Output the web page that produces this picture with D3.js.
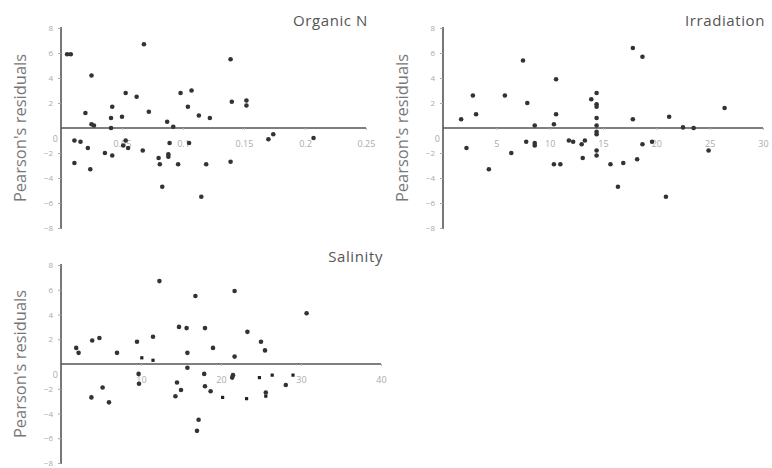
<!DOCTYPE html>
<html>
<head>
<meta charset="utf-8">
<script src="https://cdn.jsdelivr.net/npm/d3@7"></script>
<style>
  html, body { margin: 0; padding: 0; background: #fff; }
  svg { display: block; }
</style>
</head>
<body>
<svg id="chart" width="772" height="468"></svg>
<script>
// Pearson's residuals against three environmental predictors.
const residualTicks = [-8, -6, -4, -2, 2, 4, 6, 8];

const organicNTicks = [0.05, 0.1, 0.15, 0.2, 0.25];
const organicNTickLabels = ["0.05", "0.1", "0.15", "0.2", "0.25"];
const organicN = [0.005, 0.068, 0.139, 0.025, 0.053, 0.062, 0.098, 0.107, 0.042, 0.072,
  0.104, 0.140, 0.152, 0.152, 0.020, 0.041, 0.050, 0.113, 0.122, 0.025,
  0.027, 0.087, 0.092, 0.011, 0.016, 0.022, 0.053, 0.051, 0.055, 0.036,
  0.042, 0.067, 0.089, 0.105, 0.088, 0.088, 0.080, 0.011, 0.024, 0.081,
  0.096, 0.119, 0.139, 0.083, 0.115, 0.170, 0.174, 0.207, 0.041, 0.008];
const organicNResid = [5.9, 6.7, 5.5, 4.2, 2.8, 2.5, 2.8, 3.0, 1.7, 1.3,
  1.7, 2.1, 2.2, 1.8, 1.2, 0.8, 0.9, 1.0, 0.8, 0.3,
  0.2, 0.5, 0.1, -1.0, -1.1, -1.6, -1.0, -1.4, -1.6, -2.0,
  -2.2, -1.8, -1.2, -1.2, -2.1, -2.3, -2.4, -2.8, -3.3, -2.9,
  -2.9, -2.9, -2.7, -4.7, -5.5, -0.9, -0.5, -0.8, 0.0, 5.9];

const irradiationTicks = [5, 10, 15, 20, 25, 30];
const irradiationTickLabels = ["5", "10", "15", "20", "25", "30"];
const irradiation = [17.8, 18.7, 7.5, 10.6, 2.8, 5.8, 14.4, 13.9, 14.4, 14.4,
  7.9, 3.1, 10.6, 1.7, 14.4, 17.8, 21.2, 26.4, 10.4, 14.4,
  14.4, 14.4, 2.2, 4.3, 6.4, 7.8, 8.6, 8.6, 10.4, 11.0,
  11.8, 12.2, 13.0, 13.3, 13.1, 14.4, 14.4, 15.7, 16.9, 16.4,
  18.2, 18.7, 19.6, 20.9, 24.9, 22.5, 23.5, 8.6];
const irradiationResid = [6.4, 5.7, 5.4, 3.9, 2.6, 2.6, 2.8, 2.3, 1.9, 1.7,
  2.0, 1.1, 1.1, 0.7, 0.8, 0.7, 0.9, 1.6, 0.3, 0.2,
  -0.5, -0.3, -1.6, -3.3, -2.0, -1.1, -1.2, -1.4, -2.9, -2.9,
  -1.0, -1.1, -1.3, -1.0, -2.4, -1.8, -2.2, -2.9, -2.8, -4.7,
  -2.5, -1.3, -1.1, -5.5, -1.8, 0.05, 0.0, 0.2];

const salinityTicks = [10, 20, 30, 40];
const salinityTickLabels = ["10", "20", "30", "40"];
const salinity = [12.3, 16.8, 21.7, 30.7, 14.75, 15.7, 18.0, 23.3, 3.9, 4.8,
  11.5, 9.5, 25.0, 1.9, 2.2, 7.0, 15.8, 19.0, 25.5, 21.7,
  15.8, 9.7, 9.75, 17.9, 3.8, 5.2, 6.0, 14.5, 15.0, 14.3,
  18.0, 18.7, 17.2, 17.0, 21.4, 21.5, 28.1, 25.6];
const salinityResid = [6.7, 5.5, 5.9, 4.1, 3.0, 2.9, 2.9, 2.6, 1.9, 2.1,
  2.2, 1.8, 1.8, 1.3, 0.9, 0.9, 0.9, 1.3, 1.1, 0.6,
  -0.3, -0.8, -1.6, -0.8, -2.7, -1.9, -3.1, -1.5, -2.1, -2.6,
  -1.8, -2.2, -4.5, -5.4, -1.1, -0.9, -1.7, -2.3];
// Salinity observations drawn with small square markers
const salinitySq = [10.1, 11.5, 24.8, 26.4, 29.0, 20.2, 23.2, 25.6];
const salinitySqResid = [0.5, 0.3, -1.1, -0.9, -0.9, -2.7, -2.8, -2.6];

const svg = d3.select("#chart");
const font = "'Open Sans', 'Noto Sans', sans-serif";

const panels = [
  { title: "Organic N", xs: organicN, ys: organicNResid, xDomain: [0, 0.25],
    xTicks: organicNTicks, xLabels: organicNTickLabels,
    left: 61, right: 366, top: 28, bottom: 228, titleY: 26 },
  { title: "Irradiation", xs: irradiation, ys: irradiationResid, xDomain: [0, 30],
    xTicks: irradiationTicks, xLabels: irradiationTickLabels,
    left: 443, right: 763, top: 28, bottom: 228, titleY: 26 },
  { title: "Salinity", xs: salinity, ys: salinityResid, xDomain: [0, 40],
    xTicks: salinityTicks, xLabels: salinityTickLabels,
    sqx: salinitySq, sqy: salinitySqResid,
    left: 61, right: 381, top: 265, bottom: 463, titleY: 262 }
];

panels.forEach(p => {
  const x = d3.scaleLinear().domain(p.xDomain).range([p.left, p.right]);
  const y = d3.scaleLinear().domain([-8, 8]).range([p.bottom, p.top]);
  const g = svg.append("g");

  // y axis: vertical line with short ticks to the left
  const yAxis = d3.axisLeft(y).tickValues(residualTicks).tickSize(3).tickPadding(5)
    .tickFormat(d3.format("d"));
  const ya = g.append("g").attr("transform", `translate(${x(0)},0)`).call(yAxis);
  ya.select(".domain").attr("d", `M0,${y(8) - 1}V${y(-8) + 1}`)
    .attr("stroke", "#555").attr("stroke-width", 1.6);
  ya.selectAll(".tick line").attr("stroke", "#aaa");
  ya.selectAll(".tick text").attr("fill", "#aaa").style("font-family", font).style("font-size", "8px");

  // x axis through zero residual, labels below
  const xAxis = d3.axisBottom(x).tickValues(p.xTicks).tickSize(2).tickPadding(11)
    .tickFormat((d, i) => p.xLabels[i]);
  const xa = g.append("g").attr("transform", `translate(0,${y(0)})`).call(xAxis);
  xa.select(".domain").attr("d", `M${x(p.xDomain[0])},0H${x(p.xDomain[1])}`)
    .attr("stroke", "#555").attr("stroke-width", 1.6);
  xa.selectAll(".tick line").attr("stroke", "#bbb");
  xa.selectAll(".tick text").attr("fill", "#aaa").style("font-family", font).style("font-size", "9px");

  // origin label
  g.append("text").attr("x", x(0) - 3).attr("y", y(0) + 14)
    .attr("text-anchor", "end").attr("fill", "#aaa")
    .style("font-family", font).style("font-size", "9px").text("0");

  // points
  g.append("g").selectAll("circle").data(p.xs).join("circle")
    .attr("cx", d => x(d)).attr("cy", (d, i) => y(p.ys[i]))
    .attr("r", 2.3).attr("fill", "#333");

  if (p.sqx) {
    g.append("g").selectAll("rect").data(p.sqx).join("rect")
      .attr("x", d => x(d) - 1.6).attr("y", (d, i) => y(p.sqy[i]) - 1.6)
      .attr("width", 3.2).attr("height", 3.2).attr("fill", "#222");
  }

  // title, right-aligned
  g.append("text").attr("x", p.right + 2).attr("y", p.titleY)
    .attr("text-anchor", "end").attr("fill", "#555")
    .style("font-family", font).style("font-size", "15px")
    .style("letter-spacing", "0.6px").text(p.title);

  // y-axis label
  const cy = (p.top + p.bottom) / 2;
  const lx = p.left - 35;
  g.append("text").attr("transform", `translate(${lx},${cy}) rotate(-90)`)
    .attr("text-anchor", "middle").attr("fill", "#777")
    .style("font-family", font).style("font-size", "16.5px").text("Pearson's residuals");
});
</script>
</body>
</html>
